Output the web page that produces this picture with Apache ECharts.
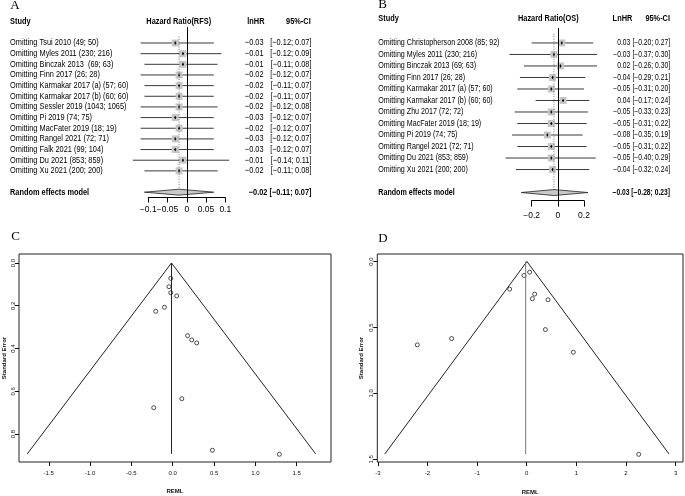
<!DOCTYPE html>
<html><head><meta charset="utf-8">
<script src="https://cdn.jsdelivr.net/npm/echarts@6/dist/echarts.min.js"></script>
<style>html,body{margin:0;padding:0;background:#fff}#c{width:685px;height:496px}</style>
</head><body><div id="c"></div>
<script>
// ---------- Panel A (RFS leave-one-out) ----------
const studiesA = ["Omitting Tsui 2010 (49; 50)","Omitting Myles 2011 (230; 216)","Omitting Binczak 2013  (69; 63)","Omitting Finn 2017 (26; 28)","Omitting Karmakar 2017 (a) (57; 60)","Omitting Karmakar 2017 (b) (60; 60)","Omitting Sessler 2019 (1043; 1065)","Omitting Pi 2019 (74; 75)","Omitting MacFater 2019 (18; 19)","Omitting Rangel 2021 (72; 71)","Omitting Falk 2021 (99; 104)","Omitting Du 2021 (853; 859)","Omitting Xu 2021 (200; 200)"];
const lnhrA  = [-0.03,-0.01,-0.01,-0.02,-0.02,-0.02,-0.02,-0.03,-0.02,-0.03,-0.03,-0.01,-0.02];
const lowerA = [-0.12,-0.12,-0.11,-0.12,-0.11,-0.11,-0.12,-0.12,-0.12,-0.12,-0.12,-0.14,-0.11];
const upperA = [0.07,0.09,0.08,0.07,0.07,0.07,0.08,0.07,0.07,0.07,0.07,0.11,0.08];
const pooledA = [-0.02,-0.11,0.07];
const ticksA = [-0.1,-0.05,0,0.05,0.1];

// ---------- Panel B (OS leave-one-out) ----------
const studiesB = ["Omitting Christopherson 2008 (85; 92)","Omitting Myles 2011 (230; 216)","Omitting Binczak 2013 (69; 63)","Omitting Finn 2017 (26; 28)","Omitting Karmakar 2017 (a) (57; 60)","Omitting Karmakar 2017 (b) (60; 60)","Omitting Zhu 2017 (72; 72)","Omitting MacFater 2019 (18; 19)","Omitting Pi 2019 (74; 75)","Omitting Rangel 2021 (72; 71)","Omitting Du 2021 (853; 859)","Omitting Xu 2021 (200; 200)"];
const lnhrB  = [0.03,-0.03,0.02,-0.04,-0.05,0.04,-0.05,-0.05,-0.08,-0.05,-0.05,-0.04];
const lowerB = [-0.20,-0.37,-0.26,-0.29,-0.31,-0.17,-0.33,-0.31,-0.35,-0.31,-0.40,-0.32];
const upperB = [0.27,0.30,0.30,0.21,0.20,0.24,0.23,0.22,0.19,0.22,0.29,0.24];
const pooledB = [-0.03,-0.28,0.23];
const ticksB = [-0.2,0,0.2];

// ---------- Panel C (funnel RFS) ----------
const funnelCx  = [-0.024,-0.045,-0.024,0.048,-0.10,-0.206,0.18,0.23,0.29,0.11,-0.23,0.48,1.29];
const funnelCse = [0.072,0.111,0.139,0.154,0.207,0.226,0.34,0.36,0.374,0.635,0.677,0.876,0.895];
const funnelCTriX  = [-1.76,-0.015,1.73];
const funnelCTriSE = [0.893,0,0.893];
const funnelCCenter = -0.015;
const ticksCx = [-1.5,-1.0,-0.5,0,0.5,1.0,1.5];
const ticksCy = [0,0.2,0.4,0.6,0.8];

// ---------- Panel D (funnel OS) ----------
const funnelDx  = [-0.054,0.06,-0.343,0.161,0.115,0.43,0.377,-1.512,-2.204,0.94,2.258];
const funnelDse = [0.106,0.081,0.209,0.247,0.282,0.29,0.516,0.584,0.632,0.688,1.462];
const funnelDTriX  = [-2.86,0.005,2.87];
const funnelDTriSE = [1.46,0,1.46];
const funnelDCenter = -0.02;
const ticksDx = [-3,-2,-1,0,1,2,3];
const ticksDy = [0,0.5,1.0,1.5];

const SANS = '"Liberation Sans",Arial,sans-serif';
const SERIF = '"Liberation Serif","Times New Roman",serif';
const NARROW_SCALE = 0.82;
function fmt(v){ return v.toFixed(2).replace('-', '\u2212'); }
function tickFmt(v){ return String(+(+v).toFixed(2)).replace('-', '\u2212'); }
function ntext(x, y, text, font, align){
  return {type:'text', x:x, y:y, scaleX:NARROW_SCALE, scaleY:1,
    style:{x:0, y:0, text:text, font:font, fill:'#000', align:align, verticalAlign:'middle'}};
}

function rowRenderer(names, offs, fsName, fsVal){
  return function(params, api){
    const cs = params.coordSys, i = params.dataIndex;
    const row = api.value(0), est = api.value(1), lo = api.value(2), hi = api.value(3);
    const a = api.coord([lo,row]), b = api.coord([hi,row]), e = api.coord([est,row]);
    const y = e[1];
    const fontN = fsName + 'px ' + SANS, fontV = fsVal + 'px ' + SANS;
    return {type:'group', children:[
      {type:'line', shape:{x1:a[0],y1:y,x2:b[0],y2:y}, style:{stroke:'#3a3a3a',lineWidth:1}},
      {type:'rect', shape:{x:e[0]-3.5,y:y-3.5,width:7,height:7}, style:{fill:'#c6c6c6'}},
      {type:'line', shape:{x1:e[0]-1,y1:y,x2:e[0]+1,y2:y}, style:{stroke:'#000',lineWidth:1}},
      {type:'line', shape:{x1:e[0],y1:y-1.5,x2:e[0],y2:y+1.5}, style:{stroke:'#000',lineWidth:1}},
      ntext(cs.x+offs.name, y, names[i], fontN, 'left'),
      ntext(cs.x+cs.width+offs.est, y, fmt(est), fontV, 'right'),
      ntext(cs.x+cs.width+offs.ci, y, '['+fmt(lo)+'; '+fmt(hi)+']', fontV, 'right')
    ]};
  };
}
function pooledRenderer(offs, fsName, fsVal, topRow){
  return function(params, api){
    const cs = params.coordSys;
    const row = api.value(0), est = api.value(1), lo = api.value(2), hi = api.value(3);
    const a = api.coord([lo,row]), b = api.coord([hi,row]), e = api.coord([est,row]);
    const t = api.coord([est, topRow]);
    const y = e[1];
    return {type:'group', children:[
      {type:'line', shape:{x1:e[0],y1:t[1],x2:e[0],y2:y-3}, style:{stroke:'#777',lineWidth:1,lineDash:[1,1.5]}},
      {type:'polygon', shape:{points:[[a[0],y],[e[0],y-3],[b[0],y],[e[0],y+3]]}, style:{fill:'#c8c8c8',stroke:'#222',lineWidth:0.8}},
      ntext(cs.x+offs.name, y, 'Random effects model', 'bold ' + fsName + 'px ' + SANS, 'left'),
      ntext(cs.x+cs.width+offs.ci, y, fmt(est)+' ['+fmt(lo)+'; '+fmt(hi)+']', 'bold ' + fsVal + 'px ' + SANS, 'right')
    ]};
  };
}

const zeroLine = {silent:true, symbol:'none', label:{show:false}, lineStyle:{color:'#000',width:1,type:'solid'}, data:[{xAxis:0}]};

function forestX(grid, min, max, interval, tickLen, margin){
  return {gridIndex:grid, type:'value', min:min, max:max, interval:interval,
    axisLine:{onZero:false, lineStyle:{color:'#000',width:1}},
    axisTick:{length:tickLen, lineStyle:{color:'#000'}}, splitLine:{show:false},
    axisLabel:{fontSize:8.5, fontFamily:SANS, color:'#000', margin:margin, formatter:tickFmt,
      showMinLabel:true, showMaxLabel:true, hideOverlap:false}};
}
function funnelX(grid, min, max, ticks, dec, gap){
  return {gridIndex:grid, type:'value', min:min, max:max, splitLine:{show:false},
    axisLine:{show:false, onZero:false}, axisTick:{show:true,length:4,customValues:ticks,lineStyle:{color:'#111'}},
    axisLabel:{customValues:ticks, fontSize:6, fontFamily:SANS, color:'#111', margin:8, formatter:v=>(+v).toFixed(dec),
      showMinLabel:true, showMaxLabel:true},
    name:'REML', nameLocation:'middle', nameGap:gap, nameTextStyle:{fontSize:6,fontFamily:SANS,fontWeight:'bold',color:'#111'}};
}
function funnelY(grid, min, max, ticks, gap){
  return {gridIndex:grid, type:'value', inverse:true, min:min, max:max, splitLine:{show:false},
    axisLine:{show:false, onZero:false}, axisTick:{show:true,length:4,customValues:ticks,lineStyle:{color:'#111'}},
    axisLabel:{customValues:ticks, rotate:90, fontSize:6, fontFamily:SANS, color:'#111', margin:3, formatter:v=>(+v).toFixed(1),
      showMinLabel:true, showMaxLabel:true},
    name:'Standard Error', nameLocation:'middle', nameGap:gap, nameTextStyle:{fontSize:6,fontFamily:SANS,fontWeight:'bold',color:'#111'}};
}
function zip(a,b){ return a.map((v,i)=>[v,b[i]]); }

const chart = echarts.init(document.getElementById('c'), null, {renderer:'canvas', width:685, height:496});
const hdrA = 21.7, hdrB = 18.3;
const hfont = 'bold 9px ' + SANS;
function gtext(x, y, text, font, align, narrow){
  return {type:'text', x:x, y:y, scaleX: narrow ? NARROW_SCALE : 1,
    style:{x:0, y:0, text:text, font:font, fill:'#000', align:align, verticalAlign:'middle'}};
}
const option = {
  animation:false,
  backgroundColor:'#fff',
  grid:[
    {left:148.3, top:27, width:77, height:170.5},
    {left:531.7, top:28, width:52.3, height:172.6},
    {left:19, top:254, width:312, height:208, show:true, borderColor:'#222', borderWidth:1, backgroundColor:'rgba(0,0,0,0)'},
    {left:377.3, top:254, width:305.7, height:209, show:true, borderColor:'#222', borderWidth:1, backgroundColor:'rgba(0,0,0,0)'}
  ],
  xAxis:[
    forestX(0, -0.1, 0.1, 0.05, 5, 8),
    forestX(1, -0.2, 0.2, 0.2, 6, 11),
    funnelX(2, -1.86, 1.915, ticksCx, 1, 26),
    funnelX(3, -3.01, 3.15, ticksDx, 0, 27)
  ],
  yAxis:[
    {gridIndex:0, type:'value', inverse:true, min:-1.5, max:14.5, show:false},
    {gridIndex:1, type:'value', inverse:true, min:-1.3, max:13.7, show:false},
    funnelY(2, -0.042, 0.931, ticksCy, 12),
    funnelY(3, -0.057, 1.52, ticksDy, 13)
  ],
  graphic:[
    gtext(15, 6, 'A', '13px '+SERIF, 'center', false),
    gtext(382.5, 5, 'B', '13px '+SERIF, 'center', false),
    gtext(15.5, 237, 'C', '13px '+SERIF, 'center', false),
    gtext(383, 238.5, 'D', '13px '+SERIF, 'center', false),
    gtext(10, hdrA, 'Study', hfont, 'left', true),
    gtext(178.7, hdrA, 'Hazard Ratio(RFS)', hfont, 'center', true),
    gtext(264.5, hdrA, 'lnHR', hfont, 'right', true),
    gtext(310.7, hdrA, '95%-CI', hfont, 'right', true),
    gtext(378.3, hdrB, 'Study', hfont, 'left', true),
    gtext(548.3, hdrB, 'Hazard Ratio(OS)', hfont, 'center', true),
    gtext(632.3, hdrB, 'LnHR', hfont, 'right', true),
    gtext(670, hdrB, '95%-CI', hfont, 'right', true)
  ],
  series:[
    {type:'custom', xAxisIndex:0, yAxisIndex:0, clip:false,
      data: studiesA.map((s,i)=>[i, lnhrA[i], lowerA[i], upperA[i]]),
      renderItem: rowRenderer(studiesA, {name:-138.3, est:38.2, ci:86.2}, 9, 9),
      markLine: zeroLine},
    {type:'custom', xAxisIndex:0, yAxisIndex:0, clip:false,
      data: [[studiesA.length+1, pooledA[0], pooledA[1], pooledA[2]]],
      renderItem: pooledRenderer({name:-138.3, ci:86.2}, 9, 9, -0.6)},
    {type:'custom', xAxisIndex:1, yAxisIndex:1, clip:false,
      data: studiesB.map((s,i)=>[i, lnhrB[i], lowerB[i], upperB[i]]),
      renderItem: rowRenderer(studiesB, {name:-153.4, est:46.3, ci:86}, 8.7, 8.2),
      markLine: zeroLine},
    {type:'custom', xAxisIndex:1, yAxisIndex:1, clip:false,
      data: [[studiesB.length+1, pooledB[0], pooledB[1], pooledB[2]]],
      renderItem: pooledRenderer({name:-153.4, ci:86}, 8.7, 8.2, -0.8)},
    // funnel C
    {type:'line', xAxisIndex:2, yAxisIndex:2, data:zip(funnelCTriX, funnelCTriSE), symbol:'none', lineStyle:{color:'#222',width:1}, silent:true},
    {type:'line', xAxisIndex:2, yAxisIndex:2, data:[[funnelCCenter,0],[funnelCCenter,funnelCTriSE[0]]], symbol:'none', lineStyle:{color:'#222',width:1}, silent:true},
    {type:'scatter', xAxisIndex:2, yAxisIndex:2, data:zip(funnelCx, funnelCse), symbol:'circle', symbolSize:4,
      itemStyle:{color:'#fff', borderColor:'#222', borderWidth:1}},
    // funnel D
    {type:'line', xAxisIndex:3, yAxisIndex:3, data:zip(funnelDTriX, funnelDTriSE), symbol:'none', lineStyle:{color:'#222',width:1}, silent:true},
    {type:'line', xAxisIndex:3, yAxisIndex:3, data:[[funnelDCenter,0],[funnelDCenter,funnelDTriSE[0]]], symbol:'none', lineStyle:{color:'#777',width:1}, silent:true},
    {type:'scatter', xAxisIndex:3, yAxisIndex:3, data:zip(funnelDx, funnelDse), symbol:'circle', symbolSize:4,
      itemStyle:{color:'#fff', borderColor:'#222', borderWidth:1}}
  ]
};
chart.setOption(option);
</script>
</body></html>
